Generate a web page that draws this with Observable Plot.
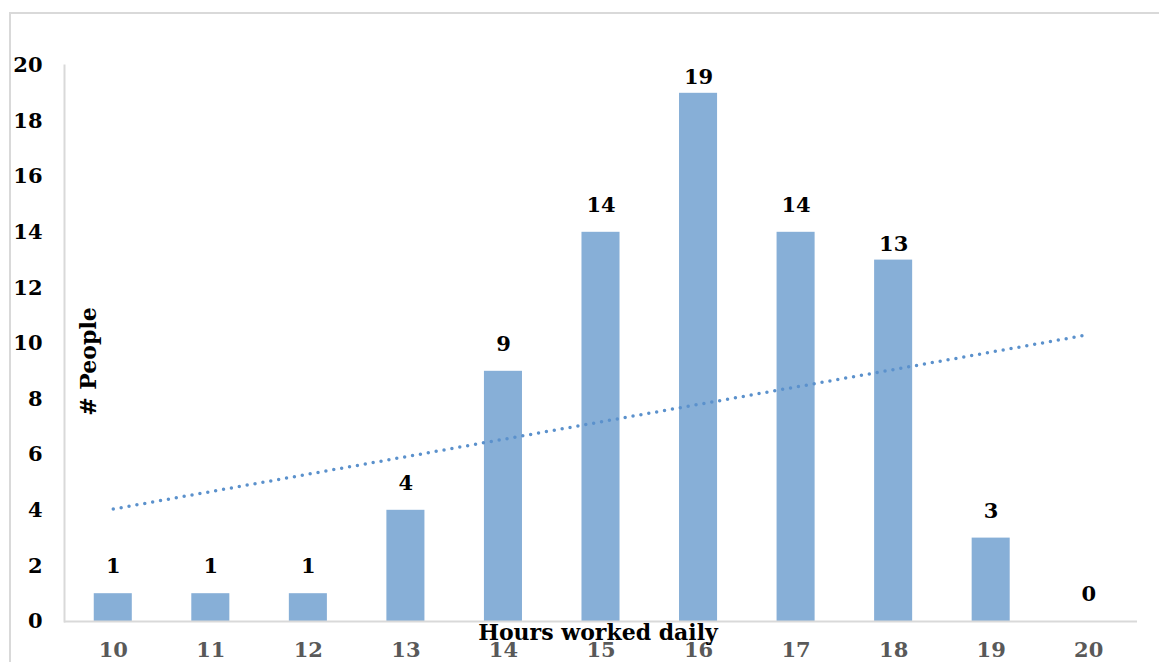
<!DOCTYPE html>
<html>
<head>
<meta charset="utf-8">
<script src="https://cdn.jsdelivr.net/npm/d3@7"></script>
<script src="https://cdn.jsdelivr.net/npm/@observablehq/plot@0.6"></script>
<style>
  html, body { margin: 0; padding: 0; background: #fff; }
  #wrap { position: relative; width: 1159px; height: 662px; overflow: hidden; }
  #border { position: absolute; left: 9px; top: 12px; width: 1200px; height: 700px;
            border-top: 2px solid #d9d9d9; border-left: 2px solid #d9d9d9; box-sizing: border-box; }
  #chart { position: absolute; left: 0; top: 0; }
</style>
</head>
<body>
<div id="wrap"><div id="border"></div><div id="chart"></div></div>
<script>
const hours = ["10", "11", "12", "13", "14", "15", "16", "17", "18", "19", "20"];
const people = [1, 1, 1, 4, 9, 14, 19, 14, 13, 3, 0];
const yTicks = [0, 2, 4, 6, 8, 10, 12, 14, 16, 18, 20];
const xTitle = "Hours worked daily";
const yTitle = "# People";

const data = hours.map((h, i) => ({hour: h, people: people[i], i}));

// linear trendline (least squares over category index)
const n = people.length;
const mx = d3.mean(people, (_, i) => i + 1);
const my = d3.mean(people);
const sxy = d3.sum(people, (v, i) => (i + 1 - mx) * (v - my));
const sxx = d3.sum(people, (_, i) => (i + 1 - mx) ** 2);
const slope = sxy / sxx;
const icpt = my - slope * mx;
const trend = [
  {hour: hours[0], v: icpt + slope * 1},
  {hour: hours[n - 1], v: icpt + slope * n}
];

const nearTop = new Set([6, 8]);
const numFont = {fontSize: 21};

const chart = Plot.plot({
  width: 1159,
  height: 662,
  marginLeft: 64,
  marginRight: 22,
  marginTop: 65,
  marginBottom: 41,
  style: {fontFamily: "DejaVu Serif", fontSize: "21px", fontWeight: "bold", background: "transparent", overflow: "visible"},
  x: {type: "band", domain: hours, paddingInner: 0.61, paddingOuter: 0.305, round: false, label: null},
  y: {domain: [0, 20], label: null},
  marks: [
    Plot.barY(data, {x: "hour", y: "people", fill: "#87afd7"}),
    Plot.ruleY([0], {stroke: "#d9d9d9", strokeWidth: 2}),
    Plot.frame({anchor: "left", stroke: "#d9d9d9", strokeWidth: 2}),
    Plot.line(trend, {x: "hour", y: "v", stroke: "#5b91cc", strokeWidth: 3.5,
      strokeDasharray: "0 8", strokeLinecap: "round"}),
    Plot.text(data.filter(d => !nearTop.has(d.i)), {x: "hour", y: "people", text: d => String(d.people),
      dy: -27, lineAnchor: "middle", fill: "#000", ...numFont}),
    Plot.text(data.filter(d => nearTop.has(d.i)), {x: "hour", y: "people", text: d => String(d.people),
      dy: -16, lineAnchor: "middle", fill: "#000", ...numFont}),
    Plot.axisY({ticks: yTicks, tickSize: 0, tickPadding: 22, tickFormat: d => String(d), label: null, fill: "#000"}),
    Plot.axisX({tickSize: 0, tickPadding: 21, label: null, color: "#595959"}),
    Plot.text([xTitle], {frameAnchor: "bottom", dy: 11, dx: -3, lineAnchor: "middle", fill: "#000", fontSize: 22}),
    Plot.text([yTitle], {frameAnchor: "left", textAnchor: "middle", dx: 24, dy: 18, rotate: -90, lineAnchor: "middle", fill: "#000", fontSize: 22})
  ]
});
document.getElementById("chart").appendChild(chart);
</script>
</body>
</html>
